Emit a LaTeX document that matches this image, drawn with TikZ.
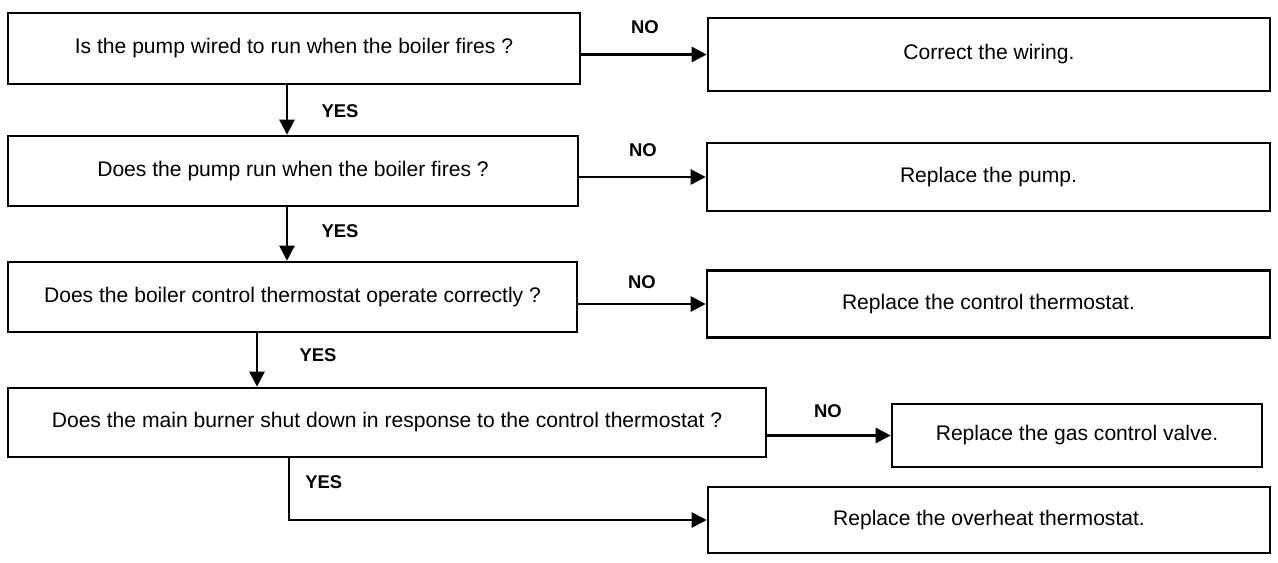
\documentclass[tikz,border=0pt]{standalone}
\usepackage{fontspec}
\setmainfont{Liberation Sans}
\usetikzlibrary{arrows.meta}
\tikzset{
  box/.style={draw, line width=1.5pt, inner sep=0pt, font=\fontsize{12}{14}\selectfont},
  lbl/.style={font=\bfseries\fontsize{10.5}{12}\selectfont, inner sep=0pt},
  conn/.style={line width=1.5pt, -{Triangle[length=0.3cm,width=0.3cm]}},
}
\begin{document}
\begin{tikzpicture}[x=0.02cm,y=-0.02cm]
\useasboundingbox (0,0) rectangle (1278,562);
% questions
\node[box, minimum width=11.44cm, minimum height=1.42cm] (q1) at (294,48.5) {Is the pump wired to run when the boiler fires ?};
\node[box, minimum width=11.40cm, minimum height=1.40cm] (q2) at (293,171) {Does the pump run when the boiler fires ?};
\node[box, minimum width=11.38cm, minimum height=1.40cm] (q3) at (292.5,297) {Does the boiler control thermostat operate correctly ?};
\node[box, minimum width=15.16cm, minimum height=1.38cm] (q4) at (387,422.5) {Does the main burner shut down in response to the control thermostat ?};
% results
\node[box, minimum width=11.24cm, minimum height=1.46cm] (r1) at (989,54.5) {Correct the wiring.};
\node[box, minimum width=11.26cm, minimum height=1.36cm] (r2) at (988.5,177) {Replace the pump.};
\node[box, minimum width=11.26cm, minimum height=1.34cm] (r3) at (988.5,304) {Replace the control thermostat.};
\node[box, minimum width=7.40cm, minimum height=1.26cm] (r4) at (1077,435.5) {Replace the gas control valve.};
\node[box, minimum width=11.24cm, minimum height=1.32cm] (r5) at (989,520) {Replace the overheat thermostat.};
% NO connectors
\draw[conn] (q1.east |- r1.west) -- (r1.west);
\draw[conn] (q2.east |- r2.west) -- (r2.west);
\draw[conn] (q3.east |- r3.west) -- (r3.west);
\draw[conn] (q4.east |- r4.west) -- (r4.west);
\node[lbl] (no1) at (645,27) {NO};
\node[lbl] (no2) at (643,150) {NO};
\node[lbl] (no3) at (642,282) {NO};
\node[lbl] (no4) at (828,411) {NO};
% YES connectors
\coordinate (y1) at (287,0);
\coordinate (y2) at (287,0);
\coordinate (y3) at (257,0);
\draw[conn] (q1.south -| y1) -- (q2.north -| y1);
\draw[conn] (q2.south -| y2) -- (q3.north -| y2);
\draw[conn] (q3.south -| y3) -- (q4.north -| y3);
\coordinate (y4) at (289,0);
\coordinate (c4) at (289,520);
\draw[conn] (q4.south -| y4) -- (c4) -- (r5.west);
\node[lbl] (yes1) at (340,111) {YES};
\node[lbl] (yes2) at (340,231) {YES};
\node[lbl] (yes3) at (318,355) {YES};
\node[lbl, anchor=west] (yes4) at (305,482) {YES};
\end{tikzpicture}
\end{document}
